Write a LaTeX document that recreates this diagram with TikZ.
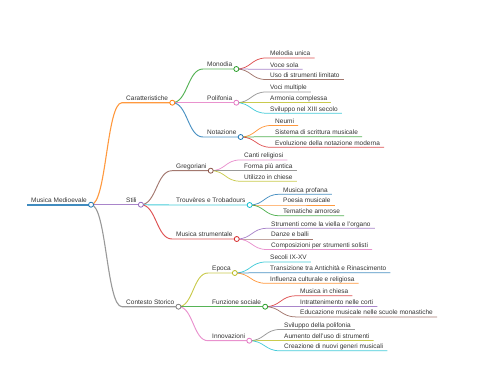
\documentclass[tikz,border=0pt]{standalone}
\usepackage{fontspec}
\setmainfont{Liberation Sans}
\usepackage{xcolor}
\usetikzlibrary{calc}
\definecolor{c0}{HTML}{1F77B4}
\definecolor{c1}{HTML}{FF7F0E}
\definecolor{c2}{HTML}{2CA02C}
\definecolor{c3}{HTML}{D62728}
\definecolor{c4}{HTML}{9467BD}
\definecolor{c5}{HTML}{8C564B}
\definecolor{c6}{HTML}{E377C2}
\definecolor{c7}{HTML}{7F7F7F}
\definecolor{c8}{HTML}{BCBD22}
\definecolor{c9}{HTML}{17BECF}
\definecolor{mmtext}{HTML}{333333}
\tikzset{
  topic/.style      = {anchor=south west, inner xsep=4pt, inner ysep=2pt,
                        text depth=0pt, font=\fontsize{6.5}{7}\selectfont,
                        text=mmtext},
  knob/.style       = {draw, circle, fill=white, inner sep=0pt,
                        minimum size=5pt, line width=0.8pt},
  link/.style       = {to path={.. controls
                        ($(\tikztostart)!.5!(\tikztostart -| \tikztotarget)$) and
                        ($(\tikztotarget)!.5!(\tikztotarget -| \tikztostart)$)
                        .. (\tikztotarget)}},
  root line/.style  = {line width=2.2pt, draw opacity=.85},
  main line/.style  = {line width=1.1pt, draw opacity=.8},
  sub line/.style   = {line width=0.95pt, draw opacity=.8},
  leaf line/.style  = {line width=0.75pt, draw opacity=.8},
}

\begin{document}
\begin{tikzpicture}[x=1pt, y=-1pt]
  \useasboundingbox (0,0) rectangle (480,384);

  \node[topic] (root)  at (27,204.7)  {Musica Medioevale};

  \node[topic] (cara)  at (122,102.7) {Caratteristiche};
  \node[topic] (stili) at (122,204.7) {Stili};
  \node[topic] (cont)  at (122,306.7) {Contesto Storico};

  \node[topic] (mono)  at (203,69)    {Monodia};
  \node[topic] (poli)  at (203,102.7) {Polifonia};
  \node[topic] (nota)  at (203,137)   {Notazione};
  \node[topic] (greg)  at (172,170.7) {Gregoriani};
  \node[topic] (trou)  at (172,205)   {Trouvères e Trobadours};
  \node[topic] (mstr)  at (172,239)   {Musica strumentale};
  \node[topic] (epoca) at (208,273)   {Epoca};
  \node[topic] (funz)  at (208,306.7) {Funzione sociale};
  \node[topic] (innov) at (208,340.7) {Innovazioni};

  \node[topic] (mono-a)  at (266,58)    {Melodia unica};
  \node[topic] (mono-b)  at (266,69.3)  {Voce sola};
  \node[topic] (mono-c)  at (266,79.5)  {Uso di strumenti limitato};
  \node[topic] (poli-a)  at (266,92)    {Voci multiple};
  \node[topic] (poli-b)  at (266,102.7) {Armonia complessa};
  \node[topic] (poli-c)  at (266,113.2) {Sviluppo nel XIII secolo};
  \node[topic] (nota-a)  at (271,125.5) {Neumi};
  \node[topic] (nota-b)  at (271,136.7) {Sistema di scrittura musicale};
  \node[topic] (nota-c)  at (271,147.3) {Evoluzione della notazione moderna};
  \node[topic] (greg-a)  at (240,160)   {Canti religiosi};
  \node[topic] (greg-b)  at (240,170.7) {Forma più antica};
  \node[topic] (greg-c)  at (240,181.2) {Utilizzo in chiese};
  \node[topic] (trou-a)  at (279,194.3) {Musica profana};
  \node[topic] (trou-b)  at (279,205)   {Poesia musicale};
  \node[topic] (trou-c)  at (279,215.7) {Tematiche amorose};
  \node[topic] (mstr-a)  at (267,228.3) {Strumenti come la viella e l'organo};
  \node[topic] (mstr-b)  at (267,239)   {Danze e balli};
  \node[topic] (mstr-c)  at (267,249.5) {Composizioni per strumenti solisti};
  \node[topic] (epoca-a) at (266,262)   {Secoli IX-XV};
  \node[topic] (epoca-b) at (266,272.7) {Transizione tra Antichità e Rinascimento};
  \node[topic] (epoca-c) at (266,283.3) {Influenza culturale e religiosa};
  \node[topic] (funz-a)  at (296,295.8) {Musica in chiesa};
  \node[topic] (funz-b)  at (296,306.4) {Intrattenimento nelle corti};
  \node[topic] (funz-c)  at (296,316.9) {Educazione musicale nelle scuole monastiche};
  \node[topic] (innov-a) at (280,329.5) {Sviluppo della polifonia};
  \node[topic] (innov-b) at (280,340.4) {Aumento dell'uso di strumenti};
  \node[topic] (innov-c) at (280,350.8) {Creazione di nuovi generi musicali};

  \draw[c0, root line] (root.south west) -- (root.south east);

  \draw[c1, main line] (root.south east) to[link] (cara.south west)  -- (cara.south east);
  \draw[c4, main line] (root.south east) to[link] (stili.south west) -- (stili.south east);
  \draw[c7, main line] (root.south east) to[link] (cont.south west)  -- (cont.south east);

  \draw[c2, sub line] (cara.south east)  to[link] (mono.south west)  -- (mono.south east);
  \draw[c6, sub line] (cara.south east)  to[link] (poli.south west)  -- (poli.south east);
  \draw[c0, sub line] (cara.south east)  to[link] (nota.south west)  -- (nota.south east);
  \draw[c5, sub line] (stili.south east) to[link] (greg.south west)  -- (greg.south east);
  \draw[c9, sub line] (stili.south east) to[link] (trou.south west)  -- (trou.south east);
  \draw[c3, sub line] (stili.south east) to[link] (mstr.south west)  -- (mstr.south east);
  \draw[c8, sub line] (cont.south east)  to[link] (epoca.south west) -- (epoca.south east);
  \draw[c2, sub line] (cont.south east)  to[link] (funz.south west)  -- (funz.south east);
  \draw[c6, sub line] (cont.south east)  to[link] (innov.south west) -- (innov.south east);

  \draw[c3, leaf line] (mono.south east)  to[link] (mono-a.south west)  -- (mono-a.south east);
  \draw[c4, leaf line] (mono.south east)  to[link] (mono-b.south west)  -- (mono-b.south east);
  \draw[c5, leaf line] (mono.south east)  to[link] (mono-c.south west)  -- (mono-c.south east);
  \draw[c7, leaf line] (poli.south east)  to[link] (poli-a.south west)  -- (poli-a.south east);
  \draw[c8, leaf line] (poli.south east)  to[link] (poli-b.south west)  -- (poli-b.south east);
  \draw[c9, leaf line] (poli.south east)  to[link] (poli-c.south west)  -- (poli-c.south east);
  \draw[c1, leaf line] (nota.south east)  to[link] (nota-a.south west)  -- (nota-a.south east);
  \draw[c2, leaf line] (nota.south east)  to[link] (nota-b.south west)  -- (nota-b.south east);
  \draw[c3, leaf line] (nota.south east)  to[link] (nota-c.south west)  -- (nota-c.south east);
  \draw[c6, leaf line] (greg.south east)  to[link] (greg-a.south west)  -- (greg-a.south east);
  \draw[c7, leaf line] (greg.south east)  to[link] (greg-b.south west)  -- (greg-b.south east);
  \draw[c8, leaf line] (greg.south east)  to[link] (greg-c.south west)  -- (greg-c.south east);
  \draw[c0, leaf line] (trou.south east)  to[link] (trou-a.south west)  -- (trou-a.south east);
  \draw[c1, leaf line] (trou.south east)  to[link] (trou-b.south west)  -- (trou-b.south east);
  \draw[c2, leaf line] (trou.south east)  to[link] (trou-c.south west)  -- (trou-c.south east);
  \draw[c4, leaf line] (mstr.south east)  to[link] (mstr-a.south west)  -- (mstr-a.south east);
  \draw[c5, leaf line] (mstr.south east)  to[link] (mstr-b.south west)  -- (mstr-b.south east);
  \draw[c6, leaf line] (mstr.south east)  to[link] (mstr-c.south west)  -- (mstr-c.south east);
  \draw[c9, leaf line] (epoca.south east) to[link] (epoca-a.south west) -- (epoca-a.south east);
  \draw[c0, leaf line] (epoca.south east) to[link] (epoca-b.south west) -- (epoca-b.south east);
  \draw[c1, leaf line] (epoca.south east) to[link] (epoca-c.south west) -- (epoca-c.south east);
  \draw[c3, leaf line] (funz.south east)  to[link] (funz-a.south west)  -- (funz-a.south east);
  \draw[c4, leaf line] (funz.south east)  to[link] (funz-b.south west)  -- (funz-b.south east);
  \draw[c5, leaf line] (funz.south east)  to[link] (funz-c.south west)  -- (funz-c.south east);
  \draw[c7, leaf line] (innov.south east) to[link] (innov-a.south west) -- (innov-a.south east);
  \draw[c8, leaf line] (innov.south east) to[link] (innov-b.south west) -- (innov-b.south east);
  \draw[c9, leaf line] (innov.south east) to[link] (innov-c.south west) -- (innov-c.south east);

  \node[knob, draw=c0] (root-k)  at (root.south east)  {};
  \node[knob, draw=c1] (cara-k)  at (cara.south east)  {};
  \node[knob, draw=c4] (stili-k) at (stili.south east) {};
  \node[knob, draw=c7] (cont-k)  at (cont.south east)  {};
  \node[knob, draw=c2] (mono-k)  at (mono.south east)  {};
  \node[knob, draw=c6] (poli-k)  at (poli.south east)  {};
  \node[knob, draw=c0] (nota-k)  at (nota.south east)  {};
  \node[knob, draw=c5] (greg-k)  at (greg.south east)  {};
  \node[knob, draw=c9] (trou-k)  at (trou.south east)  {};
  \node[knob, draw=c3] (mstr-k)  at (mstr.south east)  {};
  \node[knob, draw=c8] (epoca-k) at (epoca.south east) {};
  \node[knob, draw=c2] (funz-k)  at (funz.south east)  {};
  \node[knob, draw=c6] (innov-k) at (innov.south east) {};
\end{tikzpicture}
\end{document}
